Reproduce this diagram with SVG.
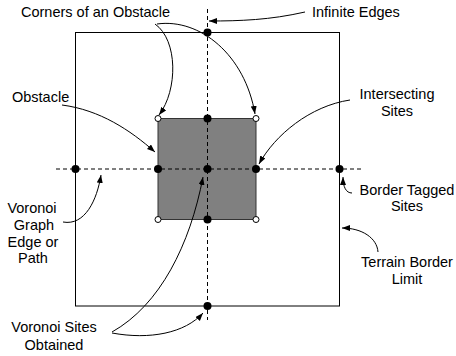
<svg xmlns="http://www.w3.org/2000/svg" width="456" height="356" viewBox="0 0 456 356">
<style>
text{font-family:"Liberation Sans",Arial,sans-serif;font-size:14.5px;fill:#000}
.c{stroke:#000;stroke-width:1;fill:none}
.d{stroke:#000;stroke-width:1;stroke-dasharray:4,3;fill:none}
.dot{fill:#000}
.o{fill:#fff;stroke:#000;stroke-width:1}
</style>
<defs>
<marker id="a" markerUnits="userSpaceOnUse" markerWidth="9" markerHeight="7" refX="8" refY="3" orient="auto">
<path d="M0,0 L8,3 L0,6 z" fill="#000"/>
</marker>
</defs>
<g id="border"><rect x="75.5" y="32.5" width="264" height="273.5" fill="none" stroke="#000" stroke-width="1"/></g>
<g id="obstacle"><rect x="158" y="118.5" width="98" height="101" fill="#808080" stroke="#333" stroke-width="1"/></g>
<g id="edges">
<line class="d" x1="56" y1="169" x2="363" y2="169"/>
<line class="d" x1="207.5" y1="9" x2="207.5" y2="320"/>
</g>
<g id="sites">
<circle class="dot" cx="207.5" cy="32.5" r="4"/>
<circle class="dot" cx="207.5" cy="118.5" r="4"/>
<circle class="dot" cx="158" cy="169" r="4"/>
<circle class="dot" cx="207.5" cy="169" r="4"/>
<circle class="dot" cx="256" cy="169" r="4"/>
<circle class="dot" cx="207.5" cy="219.5" r="4"/>
<circle class="dot" cx="75.5" cy="169" r="4"/>
<circle class="dot" cx="339.5" cy="169" r="4"/>
<circle class="dot" cx="207.5" cy="306" r="4"/>
</g>
<g id="corners">
<circle class="o" cx="158" cy="118.5" r="3"/>
<circle class="o" cx="256" cy="118.5" r="3"/>
<circle class="o" cx="158" cy="219.5" r="3"/>
<circle class="o" cx="256" cy="219.5" r="3"/>
</g>
<g id="connectors">
<path class="c" d="M305,12 C270,20 240,21 209,21" marker-end="url(#a)"/>
<path class="c" d="M155,24 C178,40 178,90 159,115" marker-end="url(#a)"/>
<path class="c" d="M157,24 C200,18 245,55 255,114" marker-end="url(#a)"/>
<path class="c" d="M62,105 C100,110 130,130 155,152" marker-end="url(#a)"/>
<path class="c" d="M350,100 C310,106 275,135 259,164" marker-end="url(#a)"/>
<path class="c" d="M352,193 C346,193 343,187 343,177" marker-end="url(#a)"/>
<path class="c" d="M378,252 C377,238 362,228 342,228" marker-end="url(#a)"/>
<path class="c" d="M63,222 C85,226 97,200 101,175" marker-end="url(#a)"/>
<path class="c" d="M112,332 C160,305 190,245 203,177" marker-end="url(#a)"/>
<path class="c" d="M112,333 C150,340 185,333 203,313" marker-end="url(#a)"/>
</g>
<g id="labels">
<text x="21" y="17">Corners of an Obstacle</text>
<text x="312" y="17">Infinite Edges</text>
<text x="12" y="102">Obstacle</text>
<text x="397" y="99" text-anchor="middle">Intersecting</text>
<text x="397" y="116" text-anchor="middle">Sites</text>
<text x="407" y="195" text-anchor="middle">Border Tagged</text>
<text x="407" y="211" text-anchor="middle">Sites</text>
<text x="407" y="267" text-anchor="middle">Terrain Border</text>
<text x="407" y="284" text-anchor="middle">Limit</text>
<text x="32" y="213" text-anchor="middle">Voronoi</text>
<text x="34" y="230" text-anchor="middle">Graph</text>
<text x="33" y="247" text-anchor="middle">Edge or</text>
<text x="33" y="263" text-anchor="middle">Path</text>
<text x="54" y="332" text-anchor="middle">Voronoi Sites</text>
<text x="54" y="350" text-anchor="middle">Obtained</text>
</g>
</svg>
